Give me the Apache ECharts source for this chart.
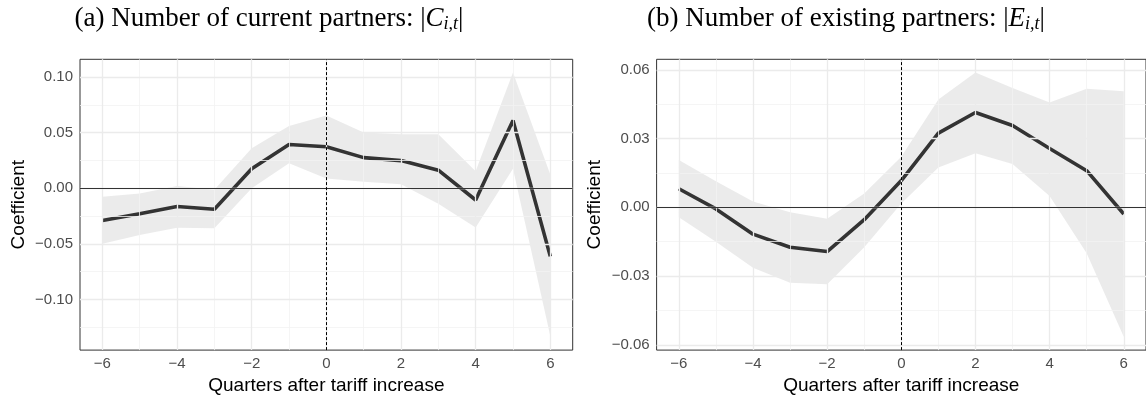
<!DOCTYPE html>
<html>
<head>
<meta charset="utf-8">
<script src="https://cdn.jsdelivr.net/npm/echarts@6/dist/echarts.min.js"></script>
<style>html,body{margin:0;padding:0;background:#fff;}#c{width:1146px;height:400px;}</style>
</head>
<body>
<div id="c"></div>
<script>
// ---- data ----
const quarters = [-6, -5, -4, -3, -2, -1, 0, 1, 2, 3, 4, 5, 6];
const coefA = [-0.0290, -0.0230, -0.0165, -0.0190, 0.0175, 0.0393, 0.0372, 0.0275, 0.0248, 0.0162, -0.0106, 0.0609, -0.0613];
const loA   = [-0.0500, -0.0420, -0.0355, -0.0360, 0.0000, 0.0224, 0.0088, 0.0059, 0.0035, -0.0140, -0.0353, 0.0174, -0.1330];
const hiA   = [-0.0076, -0.0047, 0.0020, -0.0014, 0.0359, 0.0559, 0.0653, 0.0500, 0.0485, 0.0485, 0.0153, 0.1040, 0.0123];
const coefB = [0.0081, -0.0007, -0.0117, -0.0174, -0.0193, -0.0054, 0.0117, 0.0324, 0.0414, 0.0357, 0.0257, 0.0160, -0.0029];
const loB   = [-0.0043, -0.0150, -0.0264, -0.0329, -0.0336, -0.0174, 0.0017, 0.0174, 0.0236, 0.0189, 0.0050, -0.0200, -0.0565];
const hiB   = [0.0207, 0.0114, 0.0026, -0.0021, -0.0050, 0.0060, 0.0221, 0.0471, 0.0588, 0.0521, 0.0457, 0.0517, 0.0507];

const xTicks = [-6, -4, -2, 0, 2, 4, 6];
const xMinor = [-5, -3, -1, 1, 3, 5];
const yTicksA = [-0.10, -0.05, 0, 0.05, 0.10];
const yMinorA = [-0.125, -0.075, -0.025, 0.025, 0.075];
const yTicksB = [-0.06, -0.03, 0, 0.03, 0.06];
const yMinorB = [-0.045, -0.015, 0.015, 0.045];

const titleA = ['(a) Number of current partners: ', 'C', 'i,t'];
const titleB = ['(b) Number of existing partners: ', 'E', 'i,t'];
const xName = 'Quarters after tariff increase';
const yName = 'Coefficient';

// ---- build ----
const X_MIN = -6.6, X_MAX = 6.6;
const limA = [-0.1456, 0.1159];
const limB = [-0.0623, 0.0646];

const sans = 'Liberation Sans, Arial, sans-serif';
const serif = 'Liberation Serif, Times New Roman, serif';

function fmtY(v) { return (v < 0 ? '\u2212' : '') + Math.abs(v).toFixed(2); }
function fmtX(v) { return (v < 0 ? '\u2212' : '') + Math.abs(v); }
function pairs(xs, ys) { return xs.map((x, i) => [x, ys[i]]); }

function gridLines(yMaj, yMin, lim) {
  const d = [];
  const maj = { color: '#ebebeb', width: 1.3, type: 'solid' };
  const mnr = { color: '#f3f3f3', width: 0.8, type: 'solid' };
  yMin.forEach(y => d.push([{ coord: [X_MIN, y], lineStyle: mnr }, { coord: [X_MAX, y] }]));
  xMinor.forEach(x => d.push([{ coord: [x, lim[0]], lineStyle: mnr }, { coord: [x, lim[1]] }]));
  yMaj.forEach(y => d.push([{ coord: [X_MIN, y], lineStyle: maj }, { coord: [X_MAX, y] }]));
  xTicks.forEach(x => d.push([{ coord: [x, lim[0]], lineStyle: maj }, { coord: [x, lim[1]] }]));
  return d;
}

function panelSeries(idx, coef, lo, hi, yMaj, yMin, lim) {
  const base = { xAxisIndex: idx, yAxisIndex: idx, animation: false, silent: true };
  return [
    Object.assign({}, base, {
      type: 'scatter', name: 'grid' + idx, z: 1, symbolSize: 0,
      data: pairs(quarters, coef), itemStyle: { opacity: 0 },
      markLine: { silent: true, animation: false, symbol: ['none', 'none'], label: { show: false }, data: gridLines(yMaj, yMin, lim) }
    }),
    Object.assign({}, base, {
      type: 'custom', name: 'band' + idx, z: 2, clip: true,
      data: pairs(quarters, coef),
      encode: { x: 0, y: 1 },
      renderItem: function (params, api) {
        if (params.dataIndex !== 0) return null;
        const pts = [];
        quarters.forEach((q, i) => pts.push(api.coord([q, hi[i]])));
        for (let i = quarters.length - 1; i >= 0; i--) pts.push(api.coord([quarters[i], lo[i]]));
        return { type: 'polygon', shape: { points: pts }, style: { fill: 'rgba(153,153,153,0.2)', stroke: 'none' } };
      }
    }),
    Object.assign({}, base, {
      type: 'scatter', name: 'ref' + idx, z: 3, symbolSize: 0,
      data: pairs(quarters, coef), itemStyle: { opacity: 0 },
      markLine: {
        silent: true, animation: false, symbol: ['none', 'none'], label: { show: false },
        data: [
          [{ coord: [X_MIN, 0], lineStyle: { color: '#333333', width: 1, type: 'solid' } }, { coord: [X_MAX, 0] }],
          [{ coord: [0, lim[0]], lineStyle: { color: '#000000', width: 1, type: [3, 2] } }, { coord: [0, lim[1]] }]
        ]
      }
    }),
    Object.assign({}, base, {
      type: 'line', name: 'coef' + idx, z: 4, symbol: 'none', showSymbol: false,
      data: pairs(quarters, coef), lineStyle: { color: '#333333', width: 3.6 }
    })
  ];
}

function xAxisDef(idx) {
  return {
    type: 'value', gridIndex: idx, min: X_MIN, max: X_MAX,
    axisLine: { show: false }, splitLine: { show: false },
    axisTick: { show: true, customValues: xTicks, length: 4, lineStyle: { color: '#333333', width: 1 } },
    axisLabel: { customValues: xTicks, formatter: fmtX, color: '#4d4d4d', fontSize: 15, fontFamily: sans, margin: 6 },
    name: xName, nameLocation: 'middle', nameGap: 24,
    nameTextStyle: { color: '#000', fontSize: 19, fontFamily: sans }
  };
}
function yAxisDef(idx, ticks, lim) {
  return {
    type: 'value', gridIndex: idx, min: lim[0], max: lim[1],
    axisLine: { show: false }, splitLine: { show: false },
    axisTick: { show: true, customValues: ticks, length: 4, lineStyle: { color: '#333333', width: 1 } },
    axisLabel: { customValues: ticks, formatter: fmtY, color: '#4d4d4d', fontSize: 15, fontFamily: sans, margin: 7 },
    name: yName, nameLocation: 'middle', nameGap: 52, nameRotate: 90,
    nameTextStyle: { color: '#000', fontSize: 19, fontFamily: sans }
  };
}
function titleDef(parts, cx) {
  return {
    left: cx, top: 0, textAlign: 'center',
    text: '{n|' + parts[0] + '|}{c|' + parts[1] + '}{s|' + parts[2] + '}{n||}',
    textStyle: {
      fontWeight: 'normal',
      rich: {
        n: { fontFamily: serif, fontSize: 27, fontWeight: 'normal', lineHeight: 28, color: '#000', verticalAlign: 'middle' },
        c: { fontFamily: serif, fontSize: 27, fontWeight: 'normal', lineHeight: 28, fontStyle: 'italic', color: '#000', verticalAlign: 'middle' },
        s: { fontFamily: serif, fontSize: 18, fontWeight: 'normal', lineHeight: 14, fontStyle: 'italic', color: '#000', verticalAlign: 'bottom' }
      }
    }
  };
}

const chart = echarts.init(document.getElementById('c'), null, { renderer: 'canvas' });
chart.setOption({
  animation: false,
  backgroundColor: '#ffffff',
  title: [titleDef(titleA, 264), titleDef(titleB, 841)],
  grid: [
    { left: 80, top: 59.3, width: 492.7, height: 296.7, show: true, borderColor: '#333333', borderWidth: 1, backgroundColor: 'transparent' },
    { left: 656.6, top: 59.3, width: 491.8, height: 296.7, show: true, borderColor: '#333333', borderWidth: 1, backgroundColor: 'transparent' }
  ],
  xAxis: [xAxisDef(0), xAxisDef(1)],
  yAxis: [yAxisDef(0, yTicksA, limA), yAxisDef(1, yTicksB, limB)],
  series: [].concat(
    panelSeries(0, coefA, loA, hiA, yTicksA, yMinorA, limA),
    panelSeries(1, coefB, loB, hiB, yTicksB, yMinorB, limB)
  )
});
</script>
</body>
</html>
